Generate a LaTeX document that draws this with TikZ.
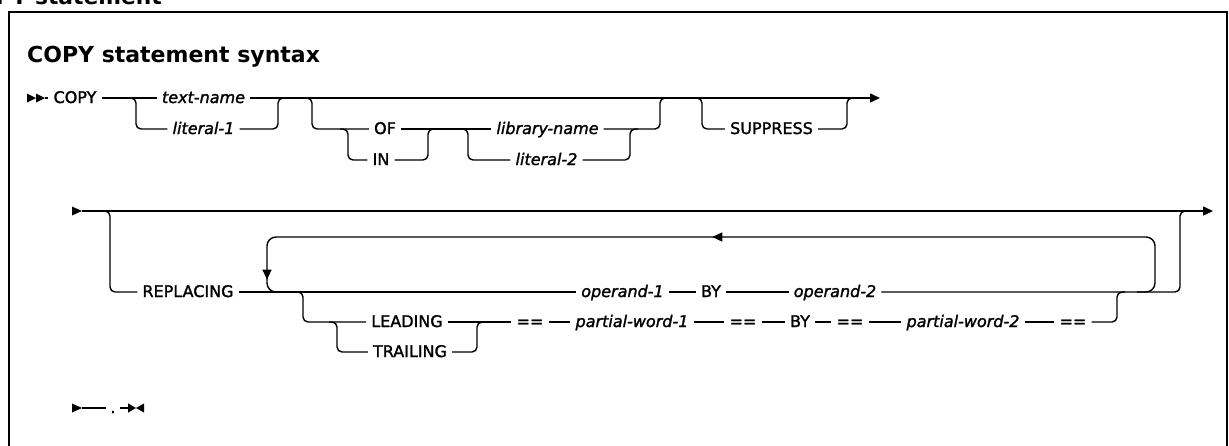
\documentclass[tikz,border=0pt]{standalone}
\usepackage{fontspec}
\setmainfont{DejaVu Sans}
\newfontfamily\diagfont{DejaVu Sans}[FakeBold=1.6]
\usetikzlibrary{arrows.meta,decorations.markings}
\tikzset{
  ln/.style={line width=1.4pt, line cap=butt},
  br/.style={ln, rounded corners=5pt},
  kw/.style={font=\diagfont\fontsize{16}{19}\selectfont, inner xsep=5pt, inner ysep=0pt, text height=12pt, text depth=2pt, anchor=center},
  var/.style={kw, font=\diagfont\fontsize{16}{19}\selectfont\itshape},
  endtip/.style={-{Triangle[length=10pt,width=9pt]}},
}
\begin{document}
\begin{tikzpicture}[x=1pt,y=-1pt]
\useasboundingbox (0,0) rectangle (1229,445);
% cut-off heading and frame
\node[anchor=base west, inner sep=0pt, font=\fontsize{21.8}{26}\selectfont\bfseries] (head) at (-39,4) {COPY statement};
\draw[line width=2.5pt] (9,450) -- (9,12) -- (1227,12) -- (1227,450);
\node[anchor=base west, inner sep=0pt, font=\fontsize{22}{26}\selectfont\bfseries] (title) at (27,62) {COPY statement syntax};

% ---------- row 1 ----------
\fill (27,93.5) -- (36,98) -- (27,102.5) -- cycle;
\fill (36,93.5) -- (45,98) -- (36,102.5) -- cycle;
\coordinate (s1) at (45,98);
\node[kw] (copy) at (75,98) {COPY};
\node[var] (textname) at (203.5,98) {text-name};
\node[var] (lit1) at (203.5,129) {literal-1};
\node[kw] (of) at (385,129) {OF};
\node[kw] (in) at (381,160) {IN};
\node[var] (libname) at (547.5,129) {library-name};
\node[var] (lit2) at (546.5,160) {literal-2};
\node[kw] (suppress) at (771.5,129) {SUPPRESS};
\coordinate (e1) at (880,98);

\draw[ln] (s1) -- (copy.west);
\draw[ln] (copy.east) -- (textname.west);
\draw[ln, endtip] (textname.east) -- (e1);
% text-name / literal-1
\coordinate (b1) at (136,98);
\coordinate (j1) at (278,98);
\draw[br] ([xshift=-8pt]b1) -| (b1 |- lit1.west) -- (lit1.west);
\draw[br] (lit1.east) -| (j1) -- ([xshift=8pt]j1);
% OF / IN
\coordinate (b2) at (312,98);
\draw[br] ([xshift=-8pt]b2) -| (b2 |- of.west) -- (of.west);
\coordinate (b3) at (348,129);
\coordinate (j3) at (428,129);
\draw[br] ([xshift=-8pt]b3) -| (b3 |- in.west) -- (in.west);
\draw[br] (in.east) -| (j3) -- ([xshift=8pt]j3);
\draw[ln] (of.east) -- (libname.west);
% library-name / literal-2
\coordinate (b4) at (468,129);
\coordinate (j4) at (630,129);
\draw[br] ([xshift=-8pt]b4) -| (b4 |- lit2.west) -- (lit2.west);
\draw[br] (lit2.east) -| (j4) -- ([xshift=8pt]j4);
\coordinate (j2) at (660,98);
\draw[br] (libname.east) -| (j2) -- ([xshift=8pt]j2);
% SUPPRESS
\coordinate (b5) at (702,98);
\coordinate (j5) at (847,98);
\draw[br] ([xshift=-8pt]b5) -| (b5 |- suppress.west) -- (suppress.west);
\draw[br] (suppress.east) -| (j5) -- ([xshift=8pt]j5);

% ---------- row 2 ----------
\fill (72,206.5) -- (82,211) -- (72,215.5) -- cycle;
\coordinate (s2) at (82,211);
\coordinate (e2) at (1213,211);
\draw[ln, endtip] (s2) -- (e2);
\node[kw] (replacing) at (188,292) {REPLACING};
\coordinate (b6) at (110,211);
\draw[br] ([xshift=-8pt]b6) -| (b6 |- replacing.west) -- (replacing.west);
\node[var] (op1) at (622.5,292) {operand-1};
\node[kw] (by1) at (711,292) {BY};
\node[var] (op2) at (835,292) {operand-2};
\draw[ln] (replacing.east) -- (op1.west);
\draw[ln] (op1.east) -- (by1.west);
\draw[ln] (by1.east) -- (op2.west);
\coordinate (j6) at (1180,211);
\draw[br] (op2.east) -| (j6) -- ([xshift=8pt]j6);
% repeat loop
\coordinate (lr) at (1155,237);
\coordinate (ll) at (267,292);
\draw[ln, rounded corners=9pt, postaction={decorate},
  decoration={markings,
    mark=at position 508pt with {\arrow{Triangle[length=10pt,width=9pt]}},
    mark=at position 992pt with {\arrow{Triangle[length=10pt,width=9pt]}}}]
  (1137,292) -| (lr) -| (ll) -- (279,292);
% LEADING / TRAILING
\node[kw] (leading) at (407,322) {LEADING};
\node[kw] (trailing) at (410,352) {TRAILING};
\coordinate (b7) at (303,292);
\draw[br] ([xshift=-8pt]b7) -| (b7 |- leading.west) -- (leading.west);
\coordinate (b8) at (337,322);
\coordinate (j8) at (477,322);
\draw[br] ([xshift=-8pt]b8) -| (b8 |- trailing.west) -- (trailing.west);
\draw[br] (trailing.east) -| (j8) -- ([xshift=8pt]j8);
\node[kw] (eq1) at (530,322) {==};
\node[var] (pw1) at (632,322) {partial-word-1};
\node[kw] (eq2) at (743,322) {==};
\node[kw] (by2) at (800,322) {BY};
\node[kw] (eq3) at (850,322) {==};
\node[var] (pw2) at (963,322) {partial-word-2};
\node[kw] (eq4) at (1073,322) {==};
\draw[ln] (leading.east) -- (eq1.west);
\draw[ln] (eq1.east) -- (pw1.west);
\draw[ln] (pw1.east) -- (eq2.west);
\draw[ln] (eq2.east) -- (by2.west);
\draw[ln] (by2.east) -- (eq3.west);
\draw[ln] (eq3.east) -- (pw2.west);
\draw[ln] (pw2.east) -- (eq4.west);
\coordinate (j7) at (1117,292);
\draw[br] (eq4.east) -| (j7) -- ([xshift=8pt]j7);

% ---------- row 3 ----------
\fill (72,403.5) -- (82,408) -- (72,412.5) -- cycle;
\coordinate (s3) at (82,408);
\node[kw, inner xsep=4pt] (dot) at (113,408) {.};
\coordinate (e3) at (136,408);
\draw[ln] (s3) -- (dot.west);
\draw[ln, -{Triangle[length=8pt,width=9pt]}] (dot.east) -- (e3);
\fill (144,403.5) -- (136,408) -- (144,412.5) -- cycle;
\end{tikzpicture}
\end{document}
